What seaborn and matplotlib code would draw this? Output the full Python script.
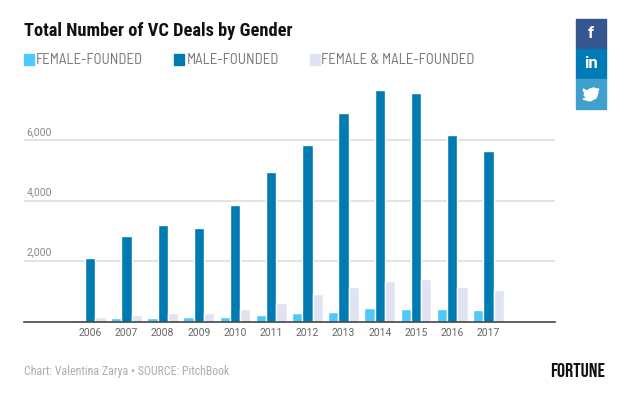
#!/usr/bin/env python3

import matplotlib
matplotlib.use("Agg")
import matplotlib.pyplot as plt
import seaborn as sns
import pandas as pd
from matplotlib.patches import Rectangle, Polygon

years = [2006, 2007, 2008, 2009, 2010, 2011, 2012, 2013, 2014, 2015, 2016, 2017]
female_founded = [65, 110, 110, 145, 165, 225, 275, 331, 450, 417, 400, 365]
male_founded = [2090, 2830, 3190, 3090, 3850, 4940, 5840, 6890, 7660, 7560, 6170, 5630]
both_founded = [145, 225, 275, 275, 400, 620, 905, 1130, 1350, 1400, 1150, 1040]

series_names = ["FEMALE-FOUNDED", "MALE-FOUNDED", "FEMALE & MALE-FOUNDED"]
series_colors = ["#4fc9fb", "#007bb2", "#e0e4f2"]
y_ticks = [2000, 4000, 6000]

W, H = 630, 395

sns.set_theme(style="white")
plt.rcParams['font.family'] = ['Roboto', 'DejaVu Sans']

# narrow faces where the machine has them, Roboto otherwise
title_font = ['Roboto Condensed', 'Roboto', 'DejaVu Sans']
legend_font = ['Barlow Semi Condensed', 'Roboto', 'DejaVu Sans']
logo_font = ['Bebas Neue', 'Roboto', 'DejaVu Sans']

df = pd.DataFrame({
    "year": years * 3,
    "deals": female_founded + male_founded + both_founded,
    "series": [s for s in series_names for _ in years],
})

fig = plt.figure(figsize=(W / 100, H / 100), dpi=100)
ax = fig.add_axes([24 / W, (H - 321.5) / H, (555 - 24) / W, (321.5 - 85) / H])

sns.barplot(data=df, x="year", y="deals", hue="series", hue_order=series_names,
            palette=series_colors, saturation=1, width=0.85, legend=False, ax=ax)

ax.set_xlim(-1.83, 12.84)
ax.set_ylim(0, 7830)
ax.set_xlabel("")
ax.set_ylabel("")
ax.set_yticks(y_ticks)
ax.set_yticklabels([])
ax.tick_params(axis="y", length=0)
ax.tick_params(axis="x", length=0, pad=5, labelsize=7.5, labelcolor="#666666")
ax.yaxis.grid(True, color="#e3e3e3", linewidth=1.4)
ax.set_axisbelow(True)
sns.despine(ax=ax, left=True)
ax.spines["bottom"].set_color("#444444")
ax.spines["bottom"].set_linewidth(1.2)

# y labels sit on top of the grid lines
for t in y_ticks:
    ax.annotate(f"{t:,}", xy=(0, t), xycoords=ax.get_yaxis_transform(),
                xytext=(2, 2.5), textcoords="offset points",
                fontsize=7.5, color="#8a8a8a", va="bottom", ha="left")

fig.text(24 / W, 1 - 31 / H, "Total Number of VC Deals by Gender", fontsize=13.2,
         fontweight="bold", color="#111111", va="center", ha="left", family=title_font)

# legend built by hand to keep the original wide spacing
legend_x = [24, 174, 310]
text_x = [36, 187, 321]
for name, color, lx, tx in zip(series_names, series_colors, legend_x, text_x):
    fig.add_artist(Rectangle((lx / W, 1 - 65 / H), 10 / W, 11 / H, color=color,
                             transform=fig.transFigure))
    fig.text(tx / W, 1 - 60 / H, name, fontsize=10.65, color="#777777",
             va="center", ha="left", family=legend_font)

fig.text(24 / W, 1 - 372 / H, "Chart: Valentina Zarya • SOURCE: PitchBook",
         fontsize=8.55, color="#adadad", va="center", ha="left", family=title_font)
fig.text(577.5 / W, 1 - 370 / H, "FORTUNE", fontsize=14.5, fontweight="bold",
         color="#111111", va="center", ha="center", family=logo_font)

# social buttons
buttons = [("#34578f", "f", 19), ("#007bb5", "in", 49), ("#3f9fcd", "", 79)]
for color, label, top in buttons:
    fig.add_artist(Rectangle((576 / W, 1 - (top + 30) / H), 30 / W, 30 / H, color=color,
                             transform=fig.transFigure))
    if label:
        fig.text(591 / W, 1 - (top + 15) / H, label, fontsize=12, fontweight="bold",
                 color="white", va="center", ha="center", family="Roboto")

bird = [(583, 89), (587, 91), (590, 89), (594, 88), (596, 89), (599, 89), (597, 91),
        (598, 92), (596, 98), (590, 101), (583, 99), (587, 98), (584, 95), (585, 94)]
fig.add_artist(Polygon([(x / W, 1 - y / H) for x, y in bird], closed=True, color="white",
                       transform=fig.transFigure))

plt.savefig("out.png", dpi=100)
plt.close()
